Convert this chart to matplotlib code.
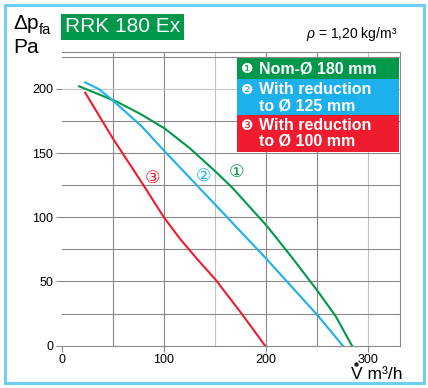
import matplotlib.pyplot as plt
from matplotlib.patches import Rectangle
from matplotlib.lines import Line2D

plt.rcParams['font.family'] = ['Liberation Sans', 'DejaVu Sans']
plt.rcParams['mathtext.fontset'] = 'custom'
plt.rcParams['mathtext.rm'] = 'Liberation Sans'
plt.rcParams['mathtext.it'] = 'Liberation Sans:italic'

# curve 1: nominal 180 mm
flow_1 = [17, 54, 78, 101, 125, 150, 167, 201, 226, 250, 268, 284]
dp_1 = [202, 190, 180, 169, 154, 136, 123, 93, 68, 43, 23, 0]
# curve 2: reduction to 125 mm
flow_2 = [23, 36, 50, 78, 100, 150, 201, 250, 275]
dp_2 = [205, 200, 191, 171, 152, 110, 67, 24, 0]
# curve 3: reduction to 100 mm
flow_3 = [23, 50, 80, 100, 115, 133, 150, 176, 199]
dp_3 = [197, 161.5, 125, 100, 84, 67, 52, 25, 0]

x_ticks = [0, 100, 200, 300]
y_ticks = [0, 50, 100, 150, 200]

green = '#00984a'
blue = '#1cb0ec'
red = '#ee1c2e'
frame_blue = '#6dcff6'

W, H = 428, 388
fig = plt.figure(figsize=(W / 100, H / 100), dpi=100)

def fx(px):
    return px / W

def fy(py):
    return 1 - py / H

ax = fig.add_axes([fx(61.7), fy(345.7), fx(400) - fx(61.7), fy(52) - fy(345.7)])
ax.set_xlim(0, 331)
ax.set_ylim(0, 228.7)

# grid
dark, light = '#8a8a8a', '#c4c4c4'
for v in [50, 100, 150, 200, 250, 300]:
    ax.axvline(v, color=light if v in (150, 300) else dark, lw=0.8, zorder=1)
for h in [25, 50, 75, 100, 125, 150, 175, 200, 225]:
    ax.axhline(h, color=light if h == 200 else dark, lw=0.8, zorder=1)

ax.plot(flow_1, dp_1, color=green, lw=1.5, zorder=3)
ax.plot(flow_2, dp_2, color=blue, lw=1.5, zorder=3)
ax.plot(flow_3, dp_3, color=red, lw=1.5, zorder=3)

ax.text(89, 130, '③', color=red, fontsize=12.5, ha='center', va='center', zorder=4)
ax.text(139, 131.5, '②', color=blue, fontsize=12.5, ha='center', va='center', zorder=4)
ax.text(171, 134.5, '①', color=green, fontsize=12.5, ha='center', va='center', zorder=4)

ax.spines['left'].set_visible(False)
for s in ['top', 'right', 'bottom']:
    ax.spines[s].set_color(dark)
    ax.spines[s].set_linewidth(0.8)
ax.set_xticks(x_ticks)
ax.set_yticks(y_ticks)
ax.tick_params(axis='both', labelsize=9, length=4, width=0.8, color=dark, pad=2)
ax.set_facecolor('white')

# legend boxes
boxes = [
    (58.3, 79.3, green, '❶', ['Nom-Ø 180 mm']),
    (79.3, 115, blue, '❷', ['With reduction', 'to Ø 125 mm']),
    (115, 151.7, red, '❸', ['With reduction', 'to Ø 100 mm']),
]
for top, bot, col, num, lines in boxes:
    fig.patches.append(Rectangle((fx(236.7), fy(bot)), fx(399.3) - fx(236.7), fy(top) - fy(bot),
                                 transform=fig.transFigure, facecolor=col, edgecolor='none', zorder=5))
    y0 = top + 10.5
    fig.text(fx(241), fy(y0), num, color='white', fontsize=10, ha='left', va='center', zorder=6)
    for i, line in enumerate(lines):
        fig.text(fx(259), fy(y0 + i * 16), line, color='white', fontsize=11.5, fontweight='bold',
                 ha='left', va='center', zorder=6)

# title box
fig.patches.append(Rectangle((fx(61), fy(40)), fx(184) - fx(61), fy(14) - fy(40),
                             transform=fig.transFigure, facecolor=green, edgecolor='none'))
fig.text(fx(122.5), fy(27), 'RRK 180 Ex', color='white', fontsize=15, ha='center', va='center')

# y axis unit
fig.text(fx(13), fy(29), 'Δp', fontsize=15, ha='left', va='baseline')
fig.text(fx(39), fy(34), 'fa', fontsize=10.5, ha='left', va='baseline')
fig.text(fx(13), fy(53), 'Pa', fontsize=15, ha='left', va='baseline')

fig.text(fx(397), fy(38), r'$\rho$ = 1,20 kg/m³', fontsize=10, ha='right', va='baseline')

# x axis unit, V with a dot on top
fig.text(fx(351), fy(379), 'V m³/h', fontsize=12.5, ha='left', va='baseline')
fig.add_artist(Line2D([fx(356)], [fy(364)], marker='o', markersize=2.2, color='#231f20',
                      transform=fig.transFigure))

# outer frame
fig.patches.append(Rectangle((fx(5), fy(383)), fx(424) - fx(5), fy(5) - fy(383),
                             transform=fig.transFigure, facecolor='none', edgecolor=frame_blue, lw=2.2))

fig.savefig('out.png', dpi=100)
